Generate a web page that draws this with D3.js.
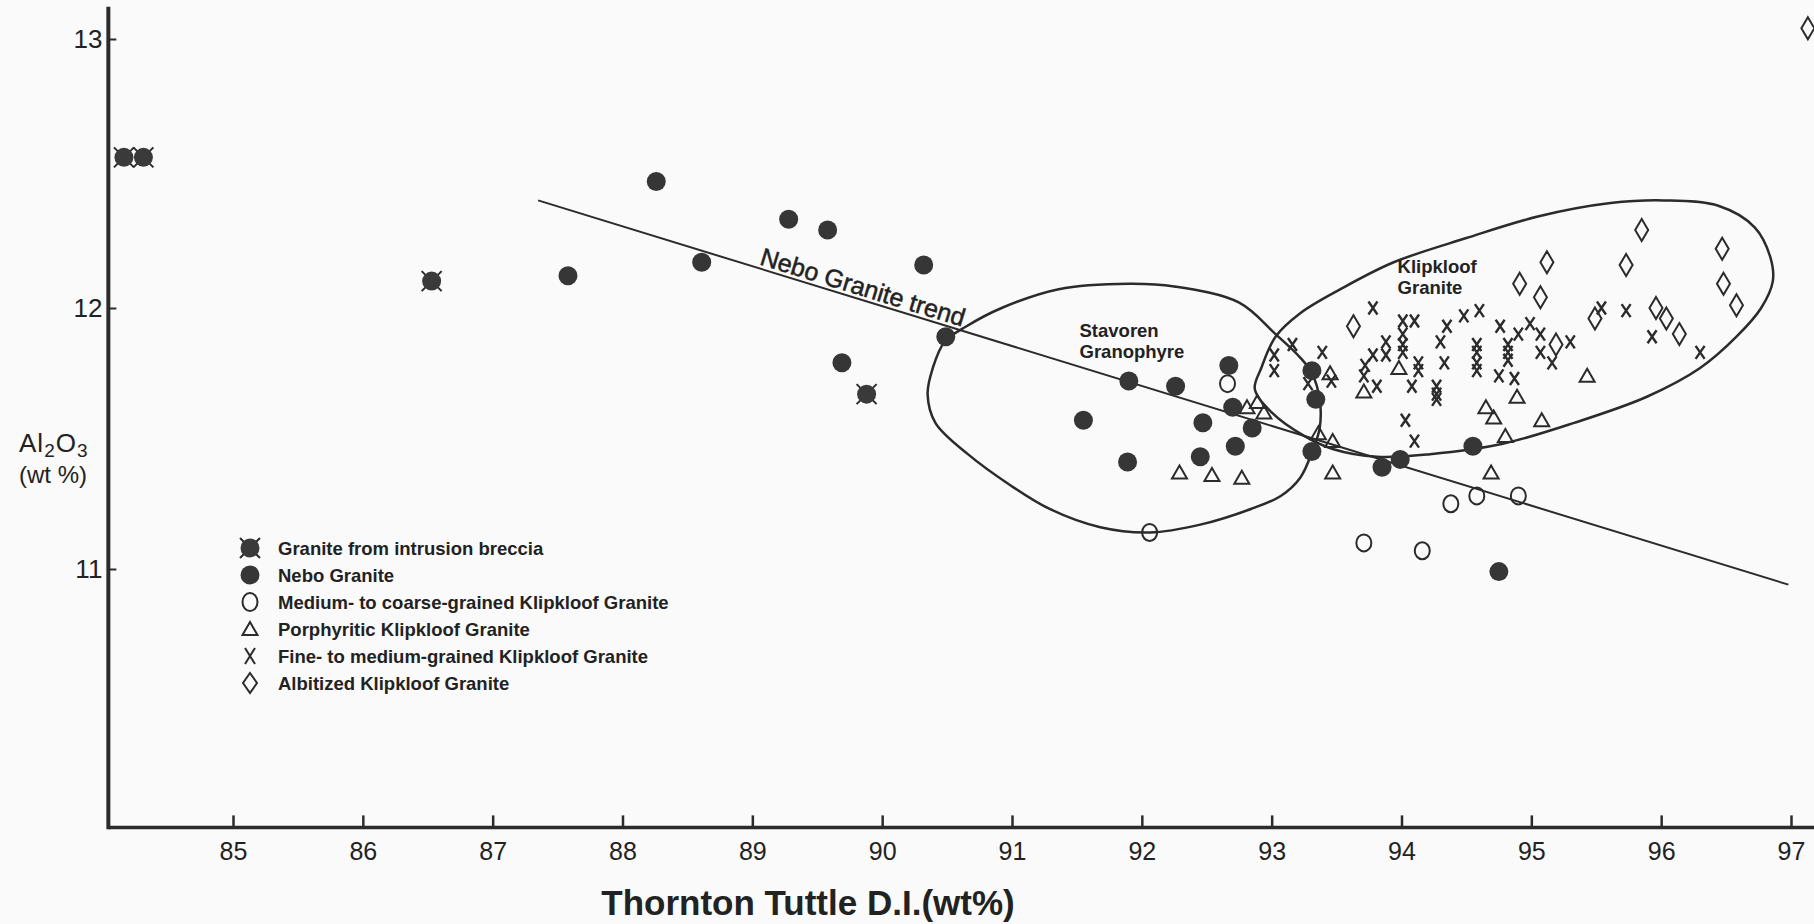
<!DOCTYPE html>
<html>
<head>
<meta charset="utf-8">
<script src="https://cdnjs.cloudflare.com/ajax/libs/d3/7.8.5/d3.min.js"></script>
<style>
	html, body { margin: 0; padding: 0; background: #fafafa; }
	svg { display: block; }
	text { font-family: "Liberation Sans", Arial, Helvetica, sans-serif; fill: #222; }
</style>
</head>
<body>
<div id="figure"></div>
<script>
(function() {
	'use strict';

	// DATA //

	// Thornton Tuttle D.I. (wt%) vs Al2O3 (wt%), one array per rock type:
	var brecciaGranite = [
		[ 84.16, 12.56 ], [ 84.31, 12.56 ], [ 86.53, 12.10 ], [ 89.88, 11.67 ]
	];

	var neboGranite = [
		[ 87.58, 12.12 ], [ 88.26, 12.47 ], [ 88.61, 12.17 ], [ 89.28, 12.33 ],
		[ 89.58, 12.29 ], [ 90.32, 12.16 ], [ 89.69, 11.79 ], [ 90.49, 11.89 ],
		[ 91.55, 11.57 ], [ 91.90, 11.72 ], [ 91.89, 11.41 ], [ 92.26, 11.70 ],
		[ 92.45, 11.43 ], [ 92.47, 11.56 ], [ 92.67, 11.78 ], [ 92.70, 11.62 ],
		[ 92.72, 11.47 ], [ 92.85, 11.54 ], [ 93.31, 11.76 ], [ 93.34, 11.65 ],
		[ 93.31, 11.45 ], [ 93.85, 11.39 ], [ 93.99, 11.42 ], [ 94.55, 11.47 ],
		[ 94.75, 10.99 ]
	];

	var coarseKlipkloof = [
		[ 92.66, 11.71 ], [ 92.06, 11.14 ], [ 93.71, 11.10 ], [ 94.16, 11.07 ],
		[ 94.38, 11.25 ], [ 94.58, 11.28 ], [ 94.90, 11.28 ]
	];

	var porphyriticKlipkloof = [
		[ 92.29, 11.37 ], [ 92.54, 11.36 ], [ 92.77, 11.35 ], [ 92.81, 11.62 ],
		[ 92.89, 11.64 ], [ 92.94, 11.60 ], [ 93.45, 11.75 ], [ 93.36, 11.52 ],
		[ 93.47, 11.49 ], [ 93.47, 11.37 ], [ 93.71, 11.68 ], [ 93.98, 11.77 ],
		[ 94.65, 11.62 ], [ 94.71, 11.58 ], [ 94.89, 11.66 ], [ 95.08, 11.57 ],
		[ 94.80, 11.51 ], [ 95.43, 11.74 ], [ 94.69, 11.37 ]
	];

	var fineKlipkloof = [
		[ 93.78, 12.00 ], [ 94.01, 11.95 ], [ 94.10, 11.95 ], [ 94.35, 11.93 ],
		[ 94.48, 11.97 ], [ 94.60, 11.99 ], [ 94.76, 11.93 ], [ 94.90, 11.90 ],
		[ 94.99, 11.94 ], [ 95.54, 12.00 ], [ 95.73, 11.99 ], [ 95.93, 11.89 ],
		[ 96.30, 11.83 ], [ 95.30, 11.87 ], [ 95.07, 11.90 ], [ 95.07, 11.83 ],
		[ 95.16, 11.79 ], [ 93.16, 11.86 ], [ 93.02, 11.82 ], [ 93.02, 11.76 ],
		[ 93.39, 11.83 ], [ 93.46, 11.72 ], [ 93.28, 11.71 ], [ 93.72, 11.78 ],
		[ 93.78, 11.82 ], [ 93.88, 11.87 ], [ 93.88, 11.82 ], [ 94.01, 11.90 ],
		[ 94.01, 11.86 ], [ 94.01, 11.83 ], [ 93.71, 11.74 ], [ 93.81, 11.70 ],
		[ 94.13, 11.79 ], [ 94.13, 11.76 ], [ 94.08, 11.70 ], [ 94.30, 11.87 ],
		[ 94.33, 11.79 ], [ 94.27, 11.70 ], [ 94.27, 11.67 ], [ 94.27, 11.65 ],
		[ 94.03, 11.57 ], [ 94.10, 11.49 ], [ 94.58, 11.86 ], [ 94.58, 11.83 ],
		[ 94.58, 11.79 ], [ 94.58, 11.76 ], [ 94.82, 11.86 ], [ 94.82, 11.83 ],
		[ 94.82, 11.80 ], [ 94.75, 11.74 ], [ 94.87, 11.73 ]
	];

	var albitizedKlipkloof = [
		[ 95.85, 12.29 ], [ 96.47, 12.22 ], [ 95.12, 12.17 ], [ 95.73, 12.16 ],
		[ 94.91, 12.09 ], [ 95.07, 12.04 ], [ 96.48, 12.09 ], [ 96.58, 12.01 ],
		[ 93.63, 11.93 ], [ 95.49, 11.96 ], [ 95.96, 12.00 ], [ 96.04, 11.96 ],
		[ 96.14, 11.90 ], [ 95.19, 11.86 ], [ 97.13, 13.04 ]
	];

	// Nebo Granite trend (end points):
	var neboTrend = [ [ 87.35, 12.40 ], [ 96.98, 10.94 ] ];

	// Field outlines:
	var stavorenField = [
		[ 90.48, 11.87 ], [ 90.65, 11.93 ], [ 90.92, 12.00 ], [ 91.36, 12.07 ],
		[ 91.90, 12.09 ], [ 92.25, 12.08 ], [ 92.75, 12.02 ], [ 93.03, 11.90 ],
		[ 93.22, 11.81 ], [ 93.31, 11.75 ], [ 93.37, 11.65 ], [ 93.37, 11.54 ],
		[ 93.32, 11.46 ], [ 93.22, 11.35 ], [ 93.07, 11.28 ], [ 92.84, 11.23 ],
		[ 92.45, 11.17 ], [ 92.06, 11.14 ], [ 91.68, 11.16 ], [ 91.29, 11.23 ],
		[ 90.99, 11.32 ], [ 90.66, 11.44 ], [ 90.41, 11.56 ], [ 90.35, 11.67 ],
		[ 90.39, 11.77 ]
	];

	var klipkloofField = [
		[ 92.87, 11.69 ], [ 92.92, 11.77 ], [ 93.03, 11.89 ], [ 93.22, 11.98 ],
		[ 93.53, 12.07 ], [ 93.94, 12.17 ], [ 94.50, 12.26 ], [ 95.05, 12.34 ],
		[ 95.61, 12.39 ], [ 96.02, 12.40 ], [ 96.44, 12.38 ], [ 96.72, 12.30 ],
		[ 96.84, 12.19 ], [ 96.86, 12.10 ], [ 96.77, 12.00 ], [ 96.58, 11.89 ],
		[ 96.30, 11.77 ], [ 95.89, 11.66 ], [ 95.33, 11.56 ], [ 94.78, 11.48 ],
		[ 94.22, 11.44 ], [ 93.81, 11.43 ], [ 93.47, 11.46 ], [ 93.25, 11.51 ],
		[ 93.00, 11.60 ]
	];

	// Axes:
	var xTicks = [ 85, 86, 87, 88, 89, 90, 91, 92, 93, 94, 95, 96, 97 ];
	var yTicks = [ 11, 12, 13 ];
	var xExtent = [ 84.04, 97.2 ];
	var yExtent = [ 10.01, 13.12 ];

	var legendLabels = [
		'Granite from intrusion breccia',
		'Nebo Granite',
		'Medium- to coarse-grained Klipkloof Granite',
		'Porphyritic Klipkloof Granite',
		'Fine- to medium-grained Klipkloof Granite',
		'Albitized Klipkloof Granite'
	];
	var legendSymbols = [ 'breccia', 'dot', 'ring', 'triangle', 'cross', 'diamond' ];


	// VARIABLES //

	var WIDTH = 1814,
		HEIGHT = 924,
		INK = '#2b2b2b';


	// FUNCTIONS //

	/**
	* FUNCTION: drawSymbol( g, type, big )
	*	Appends a plot symbol to a group centred at the origin.
	*/
	function drawSymbol( g, type, big ) {
		if ( type === 'breccia' ) {
			g.append( 'path' )
				.attr( 'd', 'M-10,-10L10,10M-10,10L10,-10' )
				.attr( 'stroke', INK )
				.attr( 'stroke-width', 2 );
			g.append( 'circle' )
				.attr( 'r', 9.5 )
				.attr( 'fill', '#3a3a3a' );
		} else if ( type === 'dot' ) {
			g.append( 'circle' )
				.attr( 'r', 9.5 )
				.attr( 'fill', '#363636' );
		} else if ( type === 'ring' ) {
			g.append( 'ellipse' )
				.attr( 'rx', 7.5 )
				.attr( 'ry', big ? 9 : 8.5 )
				.attr( 'fill', 'none' )
				.attr( 'stroke', INK )
				.attr( 'stroke-width', 2 );
		} else if ( type === 'triangle' ) {
			g.append( 'path' )
				.attr( 'd', 'M0,-7L7.5,6L-7.5,6Z' )
				.attr( 'fill', 'none' )
				.attr( 'stroke', INK )
				.attr( 'stroke-width', 2 );
		} else if ( type === 'cross' ) {
			g.append( 'path' )
				.attr( 'd', big ? 'M-5,-8L5,8M-5,8L5,-8' : 'M-4.5,-6.5L4.5,6.5M-4.5,6.5L4.5,-6.5' )
				.attr( 'stroke', INK )
				.attr( 'stroke-width', big ? 2 : 2.4 );
		} else if ( type === 'diamond' ) {
			g.append( 'path' )
				.attr( 'd', big ? 'M0,-10L7,0L0,10L-7,0Z' : 'M0,-11L6.5,0L0,11L-6.5,0Z' )
				.attr( 'fill', 'none' )
				.attr( 'stroke', INK )
				.attr( 'stroke-width', 2 );
		}
	} // end FUNCTION drawSymbol()


	// FIGURE //

	var svg, x, y, graph, xAxis, yAxis, line, outline, trendAngle, p0, p1, lbl, legend;

	svg = d3.select( '#figure' ).append( 'svg' )
		.attr( 'width', WIDTH )
		.attr( 'height', HEIGHT )
		.attr( 'viewBox', '0 0 ' + WIDTH + ' ' + HEIGHT );

	svg.append( 'rect' )
		.attr( 'width', WIDTH )
		.attr( 'height', HEIGHT )
		.attr( 'fill', '#fafafa' );

	x = d3.scaleLinear()
		.domain( [ 85, 97 ] )
		.range( [ 233, 1791 ] );

	y = d3.scaleLinear()
		.domain( [ 11, 12, 13 ] )
		.range( [ 569, 308, 39 ] );

	graph = svg.append( 'g' ).attr( 'class', 'graph' );

	// Axes:
	xAxis = graph.append( 'g' )
		.attr( 'transform', 'translate(0,' + y( yExtent[ 0 ] ) + ')' )
		.call( d3.axisBottom( x ).tickValues( xTicks ).tickSize( -12 ).tickPadding( 15 ).tickFormat( d3.format( 'd' ) ) );
	xAxis.select( '.domain' ).remove();
	xAxis.selectAll( '.tick line' ).attr( 'stroke', INK ).attr( 'stroke-width', 2.5 );
	xAxis.selectAll( '.tick text' )
		.attr( 'font-size', 25 )
		.attr( 'font-family', '"Liberation Sans", Arial, sans-serif' )
		.attr( 'fill', '#222' );

	yAxis = graph.append( 'g' )
		.attr( 'transform', 'translate(' + x( xExtent[ 0 ] ) + ',0)' )
		.call( d3.axisLeft( y ).tickValues( yTicks ).tickSize( -8 ).tickPadding( 6 ).tickFormat( d3.format( 'd' ) ) );
	yAxis.select( '.domain' ).remove();
	yAxis.selectAll( '.tick line' ).attr( 'stroke', INK ).attr( 'stroke-width', 2 );
	yAxis.selectAll( '.tick text' )
		.attr( 'font-size', 26 )
		.attr( 'font-family', '"Liberation Sans", Arial, sans-serif' )
		.attr( 'fill', '#222' );

	graph.append( 'line' )
		.attr( 'x1', x( xExtent[ 0 ] ) )
		.attr( 'x2', x( xExtent[ 1 ] ) )
		.attr( 'y1', y( yExtent[ 0 ] ) )
		.attr( 'y2', y( yExtent[ 0 ] ) )
		.attr( 'stroke', INK )
		.attr( 'stroke-width', 3.5 );

	graph.append( 'line' )
		.attr( 'x1', x( xExtent[ 0 ] ) )
		.attr( 'x2', x( xExtent[ 0 ] ) )
		.attr( 'y1', y( yExtent[ 0 ] ) + 1.75 )
		.attr( 'y2', y( yExtent[ 1 ] ) )
		.attr( 'stroke', INK )
		.attr( 'stroke-width', 4 );

	// Axis titles:
	svg.append( 'text' )
		.attr( 'x', 808 )
		.attr( 'y', 915 )
		.attr( 'text-anchor', 'middle' )
		.attr( 'font-size', 35 )
		.attr( 'font-weight', 'bold' )
		.text( 'Thornton Tuttle D.I.(wt%)' );

	lbl = svg.append( 'text' )
		.attr( 'x', 19 )
		.attr( 'y', 452 )
		.attr( 'font-size', 26 )
		.attr( 'letter-spacing', 1 );
	lbl.append( 'tspan' ).text( 'Al' );
	lbl.append( 'tspan' ).attr( 'font-size', 19 ).attr( 'dy', 5 ).text( '2' );
	lbl.append( 'tspan' ).attr( 'dy', -5 ).text( 'O' );
	lbl.append( 'tspan' ).attr( 'font-size', 19 ).attr( 'dy', 5 ).text( '3' );

	svg.append( 'text' )
		.attr( 'x', 19 )
		.attr( 'y', 483 )
		.attr( 'font-size', 24 )
		.text( '(wt %)' );

	// Field outlines:
	outline = d3.line()
		.x( function ( d ) { return x( d[ 0 ] ); } )
		.y( function ( d ) { return y( d[ 1 ] ); } )
		.curve( d3.curveCatmullRomClosed.alpha( 0.5 ) );

	graph.selectAll( 'path.field' )
		.data( [ stavorenField, klipkloofField ] )
	  .enter().append( 'path' )
		.attr( 'class', 'field' )
		.attr( 'd', outline )
		.attr( 'fill', 'none' )
		.attr( 'stroke', INK )
		.attr( 'stroke-width', 2.5 );

	// Trend line:
	line = d3.line()
		.x( function ( d ) { return x( d[ 0 ] ); } )
		.y( function ( d ) { return y( d[ 1 ] ); } );

	graph.append( 'path' )
		.datum( neboTrend )
		.attr( 'd', line )
		.attr( 'fill', 'none' )
		.attr( 'stroke', INK )
		.attr( 'stroke-width', 2 );

	p0 = [ x( neboTrend[ 0 ][ 0 ] ), y( neboTrend[ 0 ][ 1 ] ) ];
	p1 = [ x( neboTrend[ 1 ][ 0 ] ), y( neboTrend[ 1 ][ 1 ] ) ];
	trendAngle = Math.atan2( p1[ 1 ] - p0[ 1 ], p1[ 0 ] - p0[ 0 ] ) * 180 / Math.PI;

	// Label sitting on the trend line, starting at D.I. = 89.05:
	(function () {
		var t = ( x( 89.05 ) - p0[ 0 ] ) / ( p1[ 0 ] - p0[ 0 ] ),
			lx = x( 89.05 ),
			ly = p0[ 1 ] + t * ( p1[ 1 ] - p0[ 1 ] ) - 4;
		graph.append( 'text' )
			.attr( 'transform', 'translate(' + lx + ',' + ly + ') rotate(' + trendAngle + ')' )
			.attr( 'font-size', 25 )
			.attr( 'stroke', '#222' )
			.attr( 'stroke-width', 0.5 )
			.text( 'Nebo Granite trend' );
	})();

	// Field labels:
	function fieldLabel( xv, yv, lines ) {
		var t = graph.append( 'text' )
			.attr( 'x', x( xv ) )
			.attr( 'y', y( yv ) )
			.attr( 'font-size', 18.5 )
			.attr( 'font-weight', 'bold' );
		lines.forEach( function ( s, i ) {
			t.append( 'tspan' )
				.attr( 'x', x( xv ) )
				.attr( 'dy', i === 0 ? 0 : 21 )
				.text( s );
		});
	}
	fieldLabel( 91.52, 11.89, [ 'Stavoren', 'Granophyre' ] );
	fieldLabel( 93.97, 12.13, [ 'Klipkloof', 'Granite' ] );

	// Data points:
	[
		[ porphyriticKlipkloof, 'triangle' ],
		[ fineKlipkloof, 'cross' ],
		[ albitizedKlipkloof, 'diamond' ],
		[ coarseKlipkloof, 'ring' ],
		[ neboGranite, 'dot' ],
		[ brecciaGranite, 'breccia' ]
	].forEach( function ( s ) {
		graph.append( 'g' )
			.selectAll( 'g' )
			.data( s[ 0 ] )
		  .enter().append( 'g' )
			.attr( 'transform', function ( d ) {
				return 'translate(' + x( d[ 0 ] ) + ',' + y( d[ 1 ] ) + ')';
			})
			.each( function () {
				drawSymbol( d3.select( this ), s[ 1 ], false );
			});
	});

	// Legend:
	legend = svg.append( 'g' )
		.attr( 'class', 'legend' )
		.attr( 'transform', 'translate(250,548)' );

	legend.selectAll( 'g' )
		.data( legendLabels )
	  .enter().append( 'g' )
		.attr( 'transform', function ( d, i ) {
			return 'translate(0,' + ( i * 27 ) + ')';
		})
		.each( function ( d, i ) {
			var g = d3.select( this );
			drawSymbol( g.append( 'g' ), legendSymbols[ i ], true );
			g.append( 'text' )
				.attr( 'x', 28 )
				.attr( 'dy', '0.36em' )
				.attr( 'font-size', 18.5 )
				.attr( 'font-weight', 'bold' )
				.text( d );
		});

})();
</script>
</body>
</html>
